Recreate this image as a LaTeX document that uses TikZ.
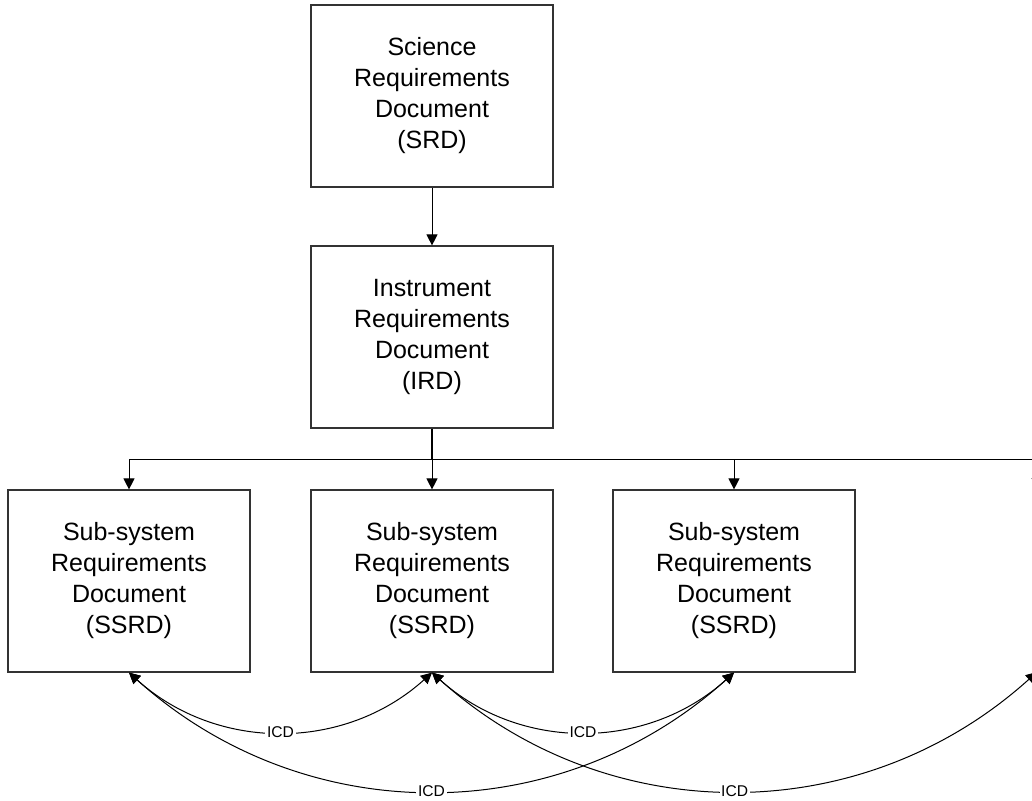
\documentclass[tikz,border=0pt]{standalone}
\usepackage{fontspec}
\setmainfont{Liberation Sans}
\usetikzlibrary{arrows.meta,positioning}
\tikzset{
  docbox/.style={draw=black!80,line width=0.6pt,minimum width=121pt,minimum height=91pt,
    inner sep=0pt,align=center,font=\fontsize{12.5}{15.5}\selectfont},
  tip/.style={Triangle[length=5.5pt,width=5.5pt]},
  flow/.style={-{Triangle[length=5.5pt,width=5.5pt]},line width=0.5pt},
  icd/.style={{Triangle[length=5.5pt,width=5.5pt]}-{Triangle[length=5.5pt,width=5.5pt]},line width=0.5pt},
  icdlabel/.style={fill=white,inner sep=0.8pt,font=\fontsize{7.8}{9}\selectfont}
}

\begin{document}
\begin{tikzpicture}[x=0.5pt,y=-0.5pt]
  \useasboundingbox (0,0) rectangle (1032,800);
  \clip (0,0) rectangle (1032,800);
  \node[docbox] (srd) at (432,96) {Science\\Requirements\\Document\\(SRD)};
  \node[docbox] (ird) at (432,337) {Instrument\\Requirements\\Document\\(IRD)};
  \foreach \i/\X in {1/129,2/432,3/734}
    \node[docbox] (ss\i) at (\X,581) {Sub-system\\Requirements\\Document\\(SSRD)};
  % fourth sub-system lies past the right edge
  \coordinate (ss4top) at (1037,489);
  \coordinate (ss4) at (1037,672);
  \coordinate (bus) at (432,459);
  \coordinate (busend) at (1040,459);
  % flow-down
  \draw[flow] (srd) -- (ird);
  \draw[line width=0.9pt] (ird.south) -- (bus);
  \draw[line width=0.5pt] (ss1.north |- bus) -- (busend);
  \foreach \n in {ss1,ss2,ss3} \draw[flow] (\n.north |- bus) -- (\n.north);
  \draw[flow] (ss4top |- bus) -- (ss4top);
  % interfaces
  \draw[icd] (ss1.south) to[bend right=42] node[icdlabel] {ICD} (ss2.south);
  \draw[icd] (ss2.south) to[bend right=42] node[icdlabel] {ICD} (ss3.south);
  \draw[icd] (ss1.south) to[bend right=42] node[icdlabel] {ICD} (ss3.south);
  \draw[icd] (ss2.south) to[bend right=42] node[icdlabel] {ICD} (ss4);
\end{tikzpicture}
\end{document}
